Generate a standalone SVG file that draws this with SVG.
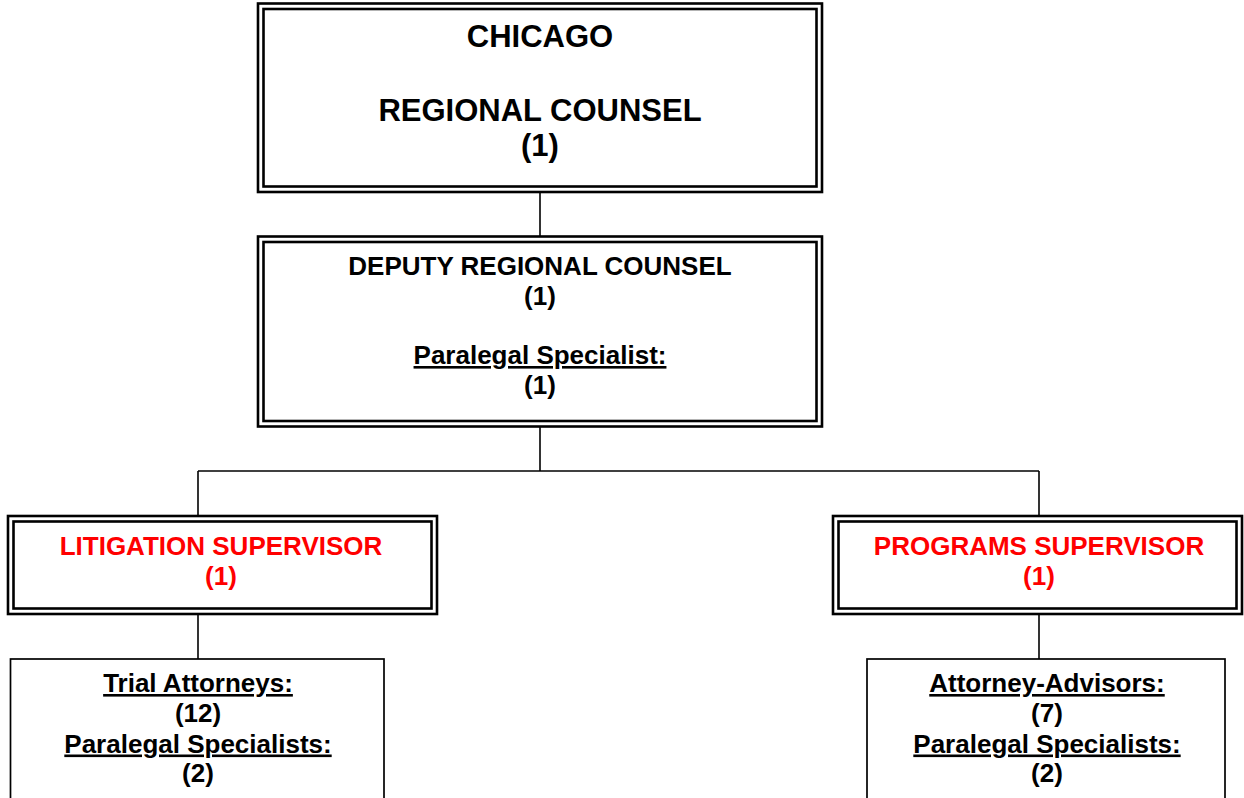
<svg xmlns="http://www.w3.org/2000/svg" width="1244" height="798" viewBox="0 0 1244 798">
<style>
  .bg { fill: #ffffff; }
  .dbl { fill: none; stroke: #000; stroke-width: 2.6; }
  .sgl { fill: #ffffff; stroke: #000; stroke-width: 1.7; }
  .conn { fill: none; stroke: #000; stroke-width: 1.6; }
  text { font-family: "Liberation Sans", Arial, sans-serif; font-weight: bold; text-anchor: middle; fill: #000; }
  .big { font-size: 31px; }
  .mid { font-size: 26px; }
  .red { fill: #ff0000; }
  .ul { text-decoration: underline; }
</style>
<rect class="bg" x="0" y="0" width="1244" height="798"/>
<g id="connectors">
  <line class="conn" x1="540" y1="192" x2="540" y2="236"/>
  <line class="conn" x1="540" y1="427" x2="540" y2="471"/>
  <line class="conn" x1="198" y1="471" x2="1039" y2="471"/>
  <line class="conn" x1="198" y1="471" x2="198" y2="516"/>
  <line class="conn" x1="1039" y1="471" x2="1039" y2="516"/>
  <line class="conn" x1="198" y1="614" x2="198" y2="659"/>
  <line class="conn" x1="1039" y1="614" x2="1039" y2="659"/>
</g>
<g id="regional-counsel">
  <rect class="dbl" x="258" y="3.5" width="564" height="188.5"/>
  <rect class="dbl" x="263.5" y="9" width="553" height="177.5"/>
  <text class="big" x="540" y="47">CHICAGO</text>
  <text class="big" x="540" y="121">REGIONAL COUNSEL</text>
  <text class="big" x="540" y="156">(1)</text>
</g>
<g id="deputy-regional-counsel">
  <rect class="dbl" x="258" y="236.5" width="564" height="190"/>
  <rect class="dbl" x="263.5" y="242" width="553" height="179"/>
  <text class="mid" x="540" y="275">DEPUTY REGIONAL COUNSEL</text>
  <text class="mid" x="540" y="304.5">(1)</text>
  <text class="mid ul" x="540" y="364">Paralegal Specialist:</text>
  <text class="mid" x="540" y="393.5">(1)</text>
</g>
<g id="litigation-supervisor">
  <rect class="dbl" x="8" y="516" width="429" height="98"/>
  <rect class="dbl" x="13.5" y="521.5" width="418" height="87"/>
  <text class="mid red" x="221" y="555">LITIGATION SUPERVISOR</text>
  <text class="mid red" x="221" y="585">(1)</text>
</g>
<g id="programs-supervisor">
  <rect class="dbl" x="833" y="516" width="409" height="98"/>
  <rect class="dbl" x="838.5" y="521.5" width="398" height="87"/>
  <text class="mid red" x="1039" y="555">PROGRAMS SUPERVISOR</text>
  <text class="mid red" x="1039" y="585">(1)</text>
</g>
<g id="litigation-staff">
  <rect class="sgl" x="10.5" y="659" width="373.5" height="150"/>
  <text class="mid ul" x="198" y="692">Trial Attorneys:</text>
  <text class="mid" x="198" y="722">(12)</text>
  <text class="mid ul" x="198" y="752.5">Paralegal Specialists:</text>
  <text class="mid" x="198" y="782">(2)</text>
</g>
<g id="programs-staff">
  <rect class="sgl" x="867" y="659" width="358" height="150"/>
  <text class="mid ul" x="1047" y="692">Attorney-Advisors:</text>
  <text class="mid" x="1047" y="722">(7)</text>
  <text class="mid ul" x="1047" y="752.5">Paralegal Specialists:</text>
  <text class="mid" x="1047" y="782">(2)</text>
</g>
</svg>
